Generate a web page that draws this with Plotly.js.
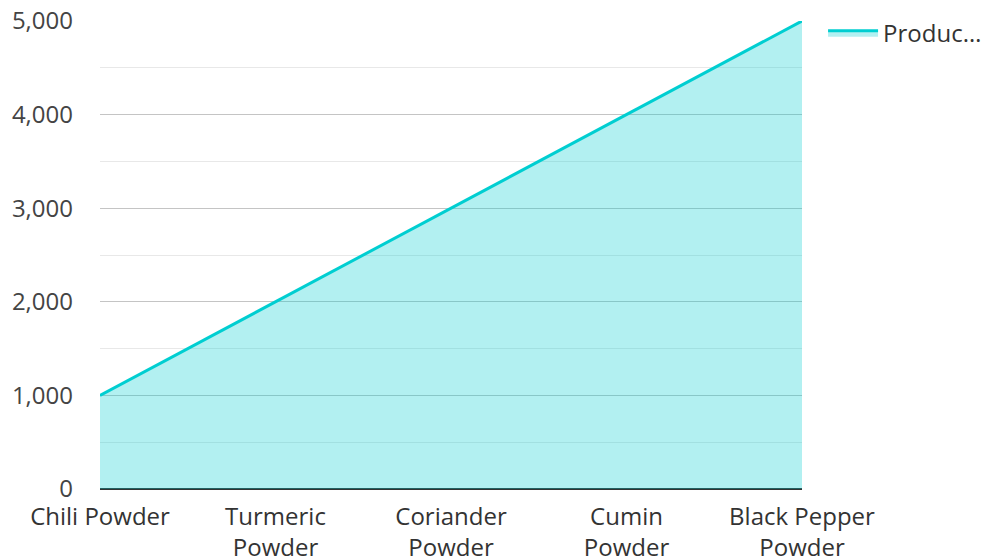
<!DOCTYPE html>
<html>
<head>
<meta charset="utf-8">
<script src="https://cdn.plot.ly/plotly-3.0.1.min.js"></script>
<style>html,body{margin:0;padding:0;background:#fff;}#chart{width:989px;height:560px;}</style>
</head>
<body>
<div id="chart"></div>
<script>
const categories = ["Chili Powder", "Turmeric<br>Powder", "Coriander<br>Powder", "Cumin<br>Powder", "Black Pepper<br>Powder"];
const production = [1000, 2000, 3000, 4000, 5000];
const seriesName = "Produc…";
const yTickVals = [0, 1000, 2000, 3000, 4000, 5000];
const yTickText = ["0", "1,000", "2,000", "3,000", "4,000", "5,000"];

const FONT = "Open Sans, Noto Sans, sans-serif";
const trace = {
  type: "scatter",
  mode: "lines",
  x: categories,
  y: production,
  name: seriesName,
  fill: "tozeroy",
  fillcolor: "rgba(0,206,209,0.3)",
  line: {color: "#00CED1", width: 3},
  hoverinfo: "x+y"
};
const layout = {
  width: 989, height: 560,
  margin: {l: 100, r: 187, t: 21, b: 71, pad: 0, autoexpand: false},
  paper_bgcolor: "#fff", plot_bgcolor: "#fff",
  font: {family: FONT, size: 24, color: "#444"},
  showlegend: true,
  legend: {x: 1.03, y: 1.022, xanchor: "left", yanchor: "top", itemwidth: 50, font: {size: 24, color: "#333"}, bgcolor: "rgba(0,0,0,0)"},
  xaxis: {
    type: "category", range: [0, 4], showgrid: false, zeroline: false, automargin: false,
    showline: false, ticks: "", ticklabelstandoff: 11, tickfont: {size: 24, color: "#333"}, fixedrange: true
  },
  yaxis: {
    range: [0, 5000], tickvals: yTickVals, ticktext: yTickText, automargin: false,
    showgrid: true, gridcolor: "#c4c4c4", gridwidth: 1,
    minor: {dtick: 500, showgrid: true, gridcolor: "#e8e8e8", gridwidth: 1},
    zeroline: true, zerolinecolor: "#333", zerolinewidth: 2,
    showline: false, ticks: "", ticklabelstandoff: 26, tickfont: {size: 24, color: "#444"},
    layer: "above traces", fixedrange: true
  }
};
Plotly.newPlot("chart", [trace], layout, {displayModeBar: false, staticPlot: true});
</script>
</body>
</html>
